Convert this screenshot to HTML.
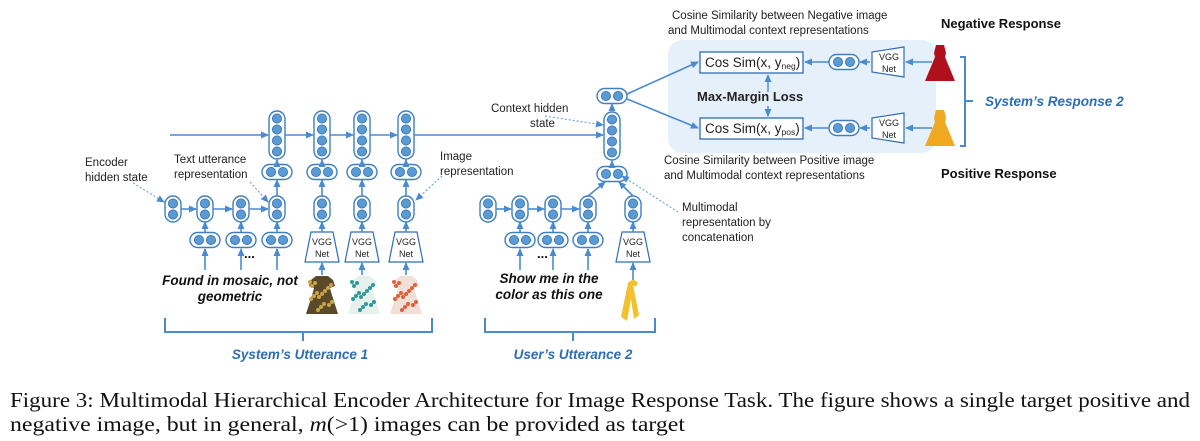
<!DOCTYPE html>
<html><head><meta charset="utf-8"><style>
html,body{margin:0;padding:0;background:#fff;width:1200px;height:441px;overflow:hidden}
svg{display:block}
.l{font-family:"Liberation Sans",sans-serif;font-size:11.5px;fill:#222}
.b{font-family:"Liberation Sans",sans-serif;font-weight:bold;fill:#111}
.bi{font-family:"Liberation Sans",sans-serif;font-weight:bold;font-style:italic;fill:#111;font-size:13.5px}
.bl{font-family:"Liberation Sans",sans-serif;font-weight:bold;font-style:italic;fill:#2e6db4;font-size:13.5px}
.v{font-family:"Liberation Sans",sans-serif;font-size:9px;fill:#222}
.cap{font-family:"Liberation Serif",serif;font-size:21px;fill:#111}
</style></head><body>
<svg id="s" width="1200" height="441" viewBox="0 0 1200 441" xmlns="http://www.w3.org/2000/svg">
<defs>
<marker id="a" markerWidth="8" markerHeight="8" refX="7" refY="4" orient="auto" markerUnits="userSpaceOnUse"><path d="M0,0.5 L8,4 L0,7.5 z" fill="#4a8ad0"/></marker>
</defs>
<rect x="668" y="40" width="268" height="113" rx="14" fill="#e6f0fa"/>
<g id="shapes"></g>
<rect x="700" y="52" width="103" height="21" fill="#fff" stroke="#2e6db4" stroke-width="1.3"/>
<rect x="700" y="118" width="103" height="21" fill="#fff" stroke="#2e6db4" stroke-width="1.3"/>
<text x="705" y="67" class="l" style="font-size:13.5px">Cos Sim(x, y<tspan font-size="8.5" dy="2">neg</tspan><tspan dy="-2">)</tspan></text>
<text x="705" y="133" class="l" style="font-size:13.5px">Cos Sim(x, y<tspan font-size="8.5" dy="2">pos</tspan><tspan dy="-2">)</tspan></text>
<text x="697" y="101" class="l" style="font-size:13px;font-weight:bold;fill:#222">Max-Margin Loss</text>
<text x="672" y="19" class="l">Cosine Similarity between Negative image</text>
<text x="668" y="34" class="l">and Multimodal context representations</text>
<text x="664" y="164" class="l">Cosine Similarity between Positive image</text>
<text x="664" y="179" class="l">and Multimodal context representations</text>
<text x="941" y="28" class="b" style="font-size:13px">Negative Response</text>
<text x="941" y="178" class="b" style="font-size:13px">Positive Response</text>
<text x="985" y="106" class="bl">System’s Response 2</text>
<text x="85" y="166" class="l">Encoder</text>
<text x="85" y="181" class="l">hidden state</text>
<text x="174" y="163" class="l">Text utterance</text>
<text x="174" y="178" class="l">representation</text>
<text x="440" y="160" class="l">Image</text>
<text x="440" y="175" class="l">representation</text>
<text x="491" y="112" class="l">Context hidden</text>
<text x="530" y="127" class="l">state</text>
<text x="682" y="211" class="l">Multimodal</text>
<text x="682" y="226" class="l">representation by</text>
<text x="682" y="241" class="l">concatenation</text>
<text x="230" y="285" class="bi" text-anchor="middle">Found in mosaic, not</text>
<text x="230" y="301" class="bi" text-anchor="middle">geometric</text>
<text x="549" y="283" class="bi" text-anchor="middle">Show me in the</text>
<text x="549" y="299" class="bi" text-anchor="middle">color as this one</text>
<text x="300" y="359" class="bl" text-anchor="middle">System’s Utterance 1</text>
<text x="573" y="359" class="bl" text-anchor="middle">User’s Utterance 2</text>
<text x="244" y="258" class="b" style="font-size:13px">...</text>
<text x="537" y="258" class="b" style="font-size:13px">...</text>
<text x="10" y="407" class="cap" textLength="1180" lengthAdjust="spacingAndGlyphs">Figure 3:  Multimodal Hierarchical Encoder Architecture for Image Response Task. The figure shows a single target positive and</text>
<text x="10" y="431" class="cap" textLength="675" lengthAdjust="spacingAndGlyphs">negative image, but in general, <tspan font-style="italic">m</tspan>(&gt;1) images can be provided as target</text>
</svg>
<script>
var NS="http://www.w3.org/2000/svg",G=document.getElementById("shapes"),B="#4a8ad0";
function el(t,a,p){var e=document.createElementNS(NS,t);for(var k in a)e.setAttribute(k,a[k]);(p||G).appendChild(e);return e;}
function vn(cx,cy,n){var h=n*11+4;el("rect",{x:cx-8,y:cy-h/2,width:16,height:h,rx:8,fill:"#fff",stroke:"#3f7fc0","stroke-width":1.4});for(var i=0;i<n;i++)el("circle",{cx:cx,cy:cy-h/2+7.5+i*11,r:4.6,fill:"#5b9bd5",stroke:"#2e6db0","stroke-width":0.8});}
function hn(cx,cy){el("rect",{x:cx-15,y:cy-7.5,width:30,height:15,rx:7.5,fill:"#fff",stroke:"#3f7fc0","stroke-width":1.4});el("circle",{cx:cx-6,cy:cy,r:4.6,fill:"#5b9bd5",stroke:"#2e6db0","stroke-width":0.8});el("circle",{cx:cx+6,cy:cy,r:4.6,fill:"#5b9bd5",stroke:"#2e6db0","stroke-width":0.8});}
function ar(x1,y1,x2,y2,d){var o={x1:x1,y1:y1,x2:x2,y2:y2,stroke:B,"stroke-width":1.6,"marker-end":"url(#a)"};if(d){o["stroke-dasharray"]="2,2";o["stroke-width"]=1.1;o.stroke="#6a9fd8";}el("line",o);}
function vgg(cx,y){el("path",{d:"M"+(cx-11)+","+y+" L"+(cx+11)+","+y+" L"+(cx+17)+","+(y+30)+" L"+(cx-17)+","+(y+30)+" z",fill:"#fff",stroke:"#2e6db4","stroke-width":1.2});var t=el("text",{x:cx,y:y+13,"text-anchor":"middle","class":"v"});t.textContent="VGG";t=el("text",{x:cx,y:y+25,"text-anchor":"middle","class":"v"});t.textContent="Net";}
function vggL(x,y){el("path",{d:"M"+x+","+(y+5)+" L"+(x+32)+","+y+" L"+(x+32)+","+(y+30)+" L"+x+","+(y+25)+" z",fill:"#fff",stroke:"#2e6db4","stroke-width":1.2});var t=el("text",{x:x+17,y:y+13,"text-anchor":"middle","class":"v"});t.textContent="VGG";t=el("text",{x:x+17,y:y+25,"text-anchor":"middle","class":"v"});t.textContent="Net";}
function dress(cx,y,c1,c2){el("path",{d:"M"+(cx-6)+","+y+" L"+(cx+6)+","+y+" L"+(cx+11)+","+(y+4)+" L"+(cx+13)+","+(y+10)+" L"+(cx+8)+","+(y+12)+" L"+(cx+9)+","+(y+16)+" L"+(cx+16)+","+(y+38)+" L"+(cx-16)+","+(y+38)+" L"+(cx-9)+","+(y+16)+" L"+(cx-8)+","+(y+12)+" L"+(cx-13)+","+(y+10)+" L"+(cx-11)+","+(y+4)+" z",fill:c1});for(var i=0;i<16;i++)el("circle",{cx:cx-12+(i*7)%24,cy:y+6+(i*11)%30,r:2,fill:c2});}
var cols=[277,322,362,406],i;
ar(170,135,268,135);
for(i=0;i<4;i++){vn(cols[i],135,4);hn(cols[i],172);ar(cols[i],164.5,cols[i],160);if(i<3)ar(cols[i]+8,135,cols[i+1]-9,135);}
ar(414,135,603,135);
var ex=[173,205,241,277];
for(i=0;i<4;i++){vn(ex[i],209,2);if(i<3)ar(ex[i]+8,209,ex[i+1]-9,209);if(i>0){hn(ex[i],240);ar(ex[i],232,ex[i],222);ar(ex[i],270,ex[i],249);}}
ar(277,196,277,180);
for(i=1;i<4;i++){vn(cols[i],209,2);ar(cols[i],196,cols[i],180);vgg(cols[i],232);ar(cols[i],232,cols[i],222);ar(cols[i],275,cols[i],263);}
dress(322,276,"#5a4a2a","#c9a548");dress(364,276,"#e8f0ee","#2e9a9a");dress(406,276,"#f0e0d8","#e0603a");
var ux=[488,520,553,588];
for(i=0;i<4;i++){vn(ux[i],209,2);if(i<3)ar(ux[i]+8,209,ux[i+1]-9,209);if(i>0){hn(ux[i],240);ar(ux[i],232,ux[i],222);ar(ux[i],270,ux[i],249);}}
vn(633,209,2);vgg(633,232);ar(633,232,633,222);ar(633,280,633,263);
el("path",{d:"M628,283 q5,-6 10,0 q-3,6 -5,2 l6,30 l-5,4 l-3,-20 l-4,22 l-6,-4 z",fill:"#f2c12e"});
hn(612,174);ar(588,196,605,182);ar(633,196,619,182);
vn(612,136,4);ar(612,166,612,161);
hn(612,96);ar(612,111,612,104);
ar(627,94,698,62);ar(627,99,698,128);
ar(835,62,805,62);ar(835,128,805,128);hn(844,62);hn(844,128);
vggL(872,47);vggL(872,113);ar(870,62,860,62);ar(870,128,860,128);
ar(932,62,906,62);ar(932,128,906,128);
el("line",{x1:768,y1:92,x2:768,y2:75,stroke:B,"stroke-width":1.4,"marker-end":"url(#a)"});
el("line",{x1:768,y1:106,x2:768,y2:116,stroke:B,"stroke-width":1.4,"marker-end":"url(#a)"});
el("path",{d:"M936,45 l8,0 l2,8 l-1,4 l10,24 l-30,0 l10,-24 l-1,-4 z",fill:"#b0101c"});
el("path",{d:"M936,110 l8,0 l2,8 l-1,4 l10,24 l-30,0 l10,-24 l-1,-4 z",fill:"#f0a820"});
el("path",{d:"M960,57 l5,0 l0,89 l-5,0 M965,101 l8,0",fill:"none",stroke:B,"stroke-width":2});
el("path",{d:"M165,318 l0,14 l267,0 l0,-14 M303,332 l0,9",fill:"none",stroke:B,"stroke-width":2});
el("path",{d:"M485,318 l0,14 l170,0 l0,-14 M573,332 l0,9",fill:"none",stroke:B,"stroke-width":2});
ar(133,183,164,202,1);ar(250,182,268,202,1);ar(442,176,416,200,1);ar(545,116,603,125,1);ar(678,212,622,176,1);
</script>
</body></html>
